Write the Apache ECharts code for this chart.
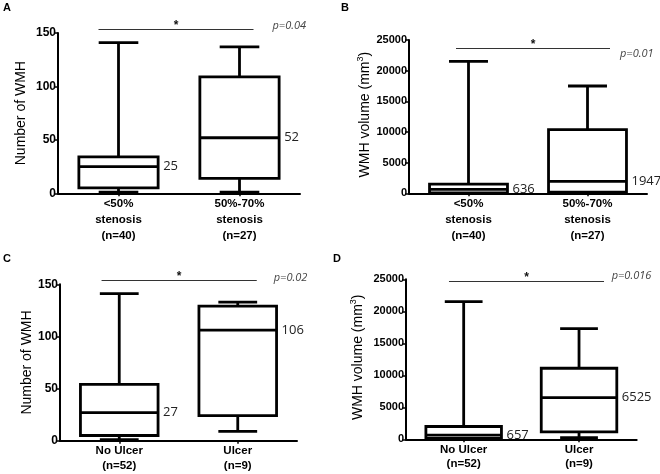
<!DOCTYPE html>
<html><head><meta charset="utf-8">
<script src="https://cdn.jsdelivr.net/npm/echarts@6/dist/echarts.min.js"></script>
<style>html,body{margin:0;padding:0;background:#fff}#c{width:660px;height:474px}</style>
</head><body><div id="c"></div>
<script>
// ---- data ----
const catsStenosis = ['<50%\nstenosis\n(n=40)', '50%-70%\nstenosis\n(n=27)'];
const catsUlcer = ['No Ulcer\n(n=52)', 'Ulcer\n(n=9)'];
// each: [min, Q1, median, Q3, max]
const countLow = [1, 5, 25, 34, 141];
const countMid = [1, 14, 52, 109, 137];
const volLow = [0, 80, 636, 1500, 21500];
const volMid = [50, 200, 1947, 10400, 17500];
const countNoUlcer = [1, 5, 27, 54, 141];
const countUlcer = [9, 24, 106, 129, 133];
const volNoUlcer = [0, 150, 657, 2000, 21500];
const volUlcer = [250, 1150, 6525, 11100, 17300];
const pValues = ['p=0.04', 'p=0.01', 'p=0.02', 'p=0.016'];
const panelLetters = ['A', 'B', 'C', 'D'];
const countAxis = {max: 150, interval: 50};
const volAxis = {max: 25000, interval: 5000};
const sigLevels = [153.5, 23700, 153.8, 24730];

// ---- layout ----
const panels = [
  {cats: catsStenosis, groups: [countLow, countMid], axis: countAxis, name: 'Number of WMH', rich: false, tickFs: 12,
   grid: {left: 58, top: 33, width: 242, height: 160.3}, nameGap: 30, lh: 16,
   sig: {l: -20, r: 14, pdx: 33, pdy: -3.5}},
  {cats: catsStenosis, groups: [volLow, volMid], axis: volAxis, name: 'WMH volume (mm3)', rich: true, tickFs: 11,
   grid: {left: 409, top: 40, width: 238, height: 153.3}, nameGap: 37, lh: 16,
   sig: {l: -12.5, r: 22.5, pdx: 32.5, pdy: 5}},
  {cats: catsUlcer, groups: [countNoUlcer, countUlcer], axis: countAxis, name: 'Number of WMH', rich: false, tickFs: 12,
   grid: {left: 60, top: 284.3, width: 237, height: 156.4}, nameGap: 26, lh: 14.5,
   sig: {l: -17.7, r: 19, pdx: 36, pdy: -2.5}},
  {cats: catsUlcer, groups: [volNoUlcer, volUlcer], axis: volAxis, name: 'WMH volume (mm3)', rich: true, tickFs: 11,
   grid: {left: 406, top: 279.3, width: 230.7, height: 160}, nameGap: 41, lh: 14.5,
   sig: {l: -14.7, r: 25, pdx: 32.7, pdy: -6}}
];
const letterPos = [[3, 2], [341, 2], [3, 253], [333, 253]];
const LW = 2.8;

function renderBox(params, api) {
  const c = api.value(0);
  const v = [1, 2, 3, 4, 5].map(i => api.value(i));
  const y = v.map(val => api.coord([c, val])[1]);
  const x = api.coord([c, 0])[0];
  const band = api.size([1, 0])[0];
  const bw = band * 0.655, hw = bw / 2, cw = bw / 4;
  const st = {stroke: '#000', lineWidth: LW, fill: null};
  return {type: 'group', children: [
    {type: 'line', shape: {x1: x, y1: y[0], x2: x, y2: y[1]}, style: st},
    {type: 'line', shape: {x1: x, y1: y[3], x2: x, y2: y[4]}, style: st},
    {type: 'line', shape: {x1: x - cw, y1: y[0], x2: x + cw, y2: y[0]}, style: st},
    {type: 'line', shape: {x1: x - cw, y1: y[4], x2: x + cw, y2: y[4]}, style: st},
    {type: 'rect', shape: {x: x - hw, y: y[3], width: bw, height: y[1] - y[3]}, style: {stroke: '#000', lineWidth: LW, fill: '#fff'}},
    {type: 'line', shape: {x1: x - hw, y1: y[2], x2: x + hw, y2: y[2]}, style: st},
    {type: 'text', style: {x: x + hw + 5, y: y[2], text: String(v[2]), fill: '#222',
      fontSize: 13, fontFamily: '"Open Sans", sans-serif', align: 'left', verticalAlign: 'middle'}}
  ]};
}

const fontBold = '"Liberation Sans", Arial, sans-serif';
const option = {
  animation: false,
  backgroundColor: '#fff',
  grid: panels.map(p => Object.assign({containLabel: false}, p.grid)),
  xAxis: panels.map((p, i) => ({
    type: 'category', gridIndex: i, data: p.cats, boundaryGap: true,
    axisLine: {show: true, lineStyle: {color: '#000', width: 2}},
    axisTick: {show: true, alignWithLabel: true, length: 3, lineStyle: {color: '#000', width: 1.5}},
    axisLabel: {color: '#000', fontWeight: 'bold', fontSize: 11.5, fontFamily: fontBold,
      lineHeight: p.lh, margin: 3, interval: 0},
    splitLine: {show: false}
  })),
  yAxis: panels.map((p, i) => ({
    type: 'value', gridIndex: i, min: 0, max: p.axis.max, interval: p.axis.interval,
    axisLine: {show: true, lineStyle: {color: '#000', width: 2}},
    axisTick: {show: true, length: 4, lineStyle: {color: '#000', width: 1.5}},
    axisLabel: {color: '#000', fontWeight: 'bold', fontSize: p.tickFs, fontFamily: fontBold, margin: 2,
      formatter: v => String(v)},
    splitLine: {show: false},
    name: p.rich ? '{a|WMH volume (mm}{s|3}{a|)}' : p.name,
    nameLocation: 'middle', nameRotate: 90, nameGap: p.nameGap,
    nameTextStyle: p.rich ? {
      padding: [0, 0, 0, 4],
      rich: {
        a: {fontSize: 14, color: '#000', fontFamily: fontBold, lineHeight: 16, verticalAlign: 'bottom'},
        s: {fontSize: 9, color: '#000', fontFamily: fontBold, lineHeight: 16, verticalAlign: 'top'}
      }
    } : {fontSize: 14, color: '#000', fontFamily: fontBold}
  })),
  series: panels.map((p, i) => ({
    type: 'custom', xAxisIndex: i, yAxisIndex: i, renderItem: renderBox, clip: false,
    encode: {x: 0, y: [1, 2, 3, 4, 5]},
    data: p.groups.map((g, k) => [k].concat(g))
  }))
};

const chart = echarts.init(document.getElementById('c'), null, {renderer: 'canvas'});
chart.setOption(option);

const graphics = [];
panels.forEach((p, i) => {
  const a = chart.convertToPixel({gridIndex: i}, [0, sigLevels[i]]);
  const b = chart.convertToPixel({gridIndex: i}, [1, sigLevels[i]]);
  const yl = Math.round(b[1]) + 0.5;
  const x1 = a[0] + p.sig.l, x2 = b[0] + p.sig.r;
  graphics.push({type: 'line', shape: {x1: x1, y1: yl, x2: x2, y2: yl}, style: {stroke: '#333', lineWidth: 1}});
  graphics.push({type: 'text', x: (x1 + x2) / 2, y: yl - 4, style: {text: '*', fill: '#111', fontSize: 12, fontWeight: 'bold',
    fontFamily: fontBold, align: 'center', verticalAlign: 'middle'}});
  graphics.push({type: 'text', x: b[0] + p.sig.pdx, y: yl + p.sig.pdy, style: {text: pValues[i], fill: '#444', fontSize: 11,
    fontStyle: 'italic', fontFamily: '"Open Sans", sans-serif', align: 'left', verticalAlign: 'middle'}});
  graphics.push({type: 'text', x: letterPos[i][0], y: letterPos[i][1], style: {text: panelLetters[i], fill: '#000', fontSize: 11,
    fontWeight: 'bold', fontFamily: fontBold, align: 'left', verticalAlign: 'top'}});
});
chart.setOption({graphic: graphics});
</script>
</body></html>
